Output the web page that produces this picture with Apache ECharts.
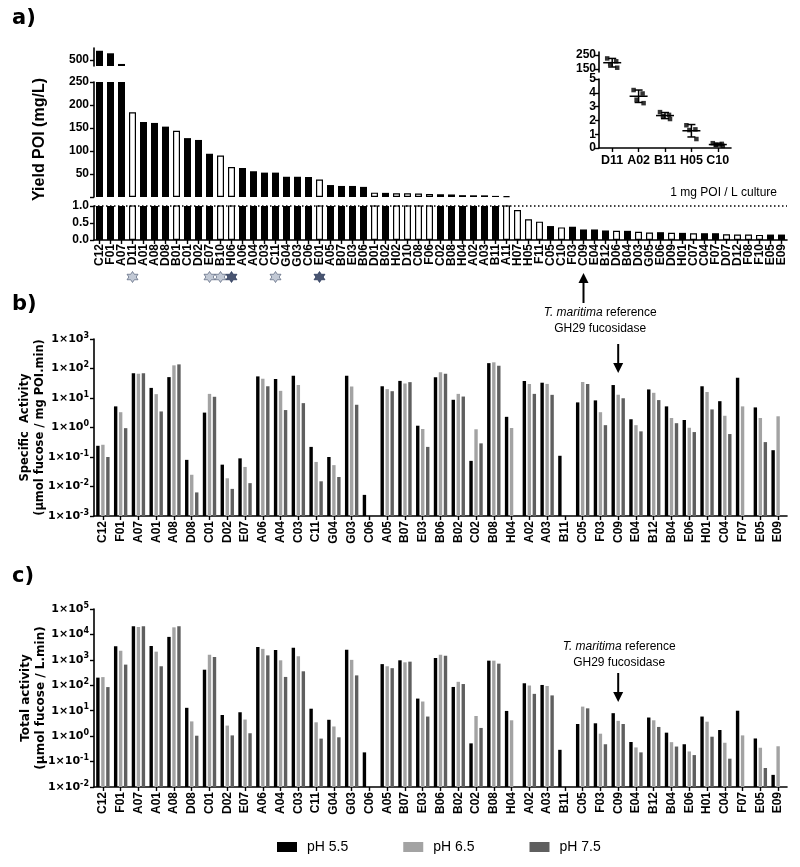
<!DOCTYPE html>
<html><head><meta charset="utf-8">
<script src="https://cdn.jsdelivr.net/npm/echarts@6/dist/echarts.min.js"></script>
<style>html,body{margin:0;padding:0;background:#fff}#c{width:800px;height:867px}</style>
</head><body><div id="c"></div>
<script>
// ---------- DATA ----------
const yieldCats = ['C12','F01','A07','D11','A01','A08','D08','B01','C01','D02','E07','B10','H06','A06','A04','C03','C11','G04','G03','C06','E01','A05','B07','E03','B06','D01','B02','H02','D10','C08','F06','C02','B08','H04','A02','A03','B11','A11','H07','H05','F11','C05','C10','F03','C09','E04','B12','D06','B04','D03','G05','E06','D09','H01','C07','C04','F07','D07','D12','F08','F10','E05','E09'];
const yieldValues = [577,556,467,184,163,161,153,144,128,124,94,90,65,63,56,53,53,44,44,43.5,38,26,24,24,22,9.5,9,8,8,7.5,6.5,6,5.5,4,3.7,3.6,2.4,1.8,0.88,0.61,0.54,0.41,0.37,0.39,0.31,0.31,0.28,0.27,0.27,0.24,0.22,0.23,0.21,0.21,0.2,0.2,0.2,0.17,0.16,0.16,0.15,0.16,0.16];
const yieldFilled = [1,1,1,0,1,1,1,0,1,1,1,0,0,1,1,1,1,1,1,1,0,1,1,1,1,0,1,0,0,0,0,1,1,1,1,1,1,0,0,0,0,1,0,1,1,1,1,0,1,0,0,1,0,1,0,1,1,0,0,0,0,1,1];
const yieldTopTicks = [500];

const starCats = ['D11','E07','B10','H06','C11','E01'];
const starShade = ['light','light','light','dark','light','dark'];

const insetCats = ['D11','A02','B11','H05','C10'];
const insetReplicates = [[225,205,185,160],[4.2,3.95,3.5,3.25],[2.6,2.4,2.3,2.1],[1.65,1.35,1.3,0.65],[0.35,0.3,0.22,0.15]];
const insetMean = [195,3.75,2.35,1.25,0.25];
const insetSD = [30,0.45,0.22,0.45,0.1];
const insetTopTicks = [150,250];

const actCats = ['C12','F01','A07','A01','A08','D08','C01','D02','E07','A06','A04','C03','C11','G04','G03','C06','A05','B07','E03','B06','B02','C02','B08','H04','A02','A03','B11','C05','F03','C09','E04','B12','B04','E06','H01','C04','F07','E05','E09'];
const specPH55 = [0.24,5.2,69,22,51,0.08,3.2,0.055,0.09,54,44,57,0.22,0.1,57,0.0052,25,38,1.15,51,8.7,0.074,152,2.3,38,33,0.11,7.1,8.3,27.5,1.9,19.5,5.2,1.8,25,7.8,49,4.8,0.17];
const specPH65 = [0.26,3.3,66,13.5,128,0.025,13.8,0.019,0.046,45,17.5,27.5,0.068,0.053,24.5,null,20,31,0.89,74,13.8,0.87,162,0.96,30,30,null,35,3.3,12.9,1.2,15,2.1,0.98,16,2.5,5.2,2.1,2.4];
const specPH75 = [0.1,0.95,69,3.5,138,0.0063,11,0.0083,0.013,25,3.9,6.7,0.015,0.021,5.9,null,17,34.5,0.22,66,11.2,0.29,124,null,13.8,12.8,null,30,1.2,9.8,0.74,8.5,1.4,0.7,4.1,0.6,null,0.32,null];
const totPH55 = [200,3400,21000,3500,8000,13,410,6.8,8.7,3200,2450,3000,12,4.4,2500,0.23,680,960,30,1170,86,0.52,930,9.8,120,103,0.29,3.0,3.2,8,0.59,5.4,1.37,0.48,5.9,1.74,10,0.81,0.03];
const totPH65 = [210,2300,19700,2100,19000,3.8,1600,2.6,4.5,2700,960,1400,3.5,2.4,1000,null,560,800,23,1600,137,6.2,930,4.2,98,94,null,14.5,1.25,4,0.36,4.2,0.58,0.25,3.7,0.55,1.07,0.35,0.4];
const totPH75 = [85,650,21000,560,21000,1.04,1300,1.07,1.3,1500,213,355,0.8,0.9,245,null,470,850,5.9,1450,112,2.1,710,null,46,40,null,12.4,0.48,3.0,0.23,2.3,0.39,0.18,0.95,0.13,null,0.056,null];
const phNames = ['pH 5.5','pH 6.5','pH 7.5'];
const refCat = 'C09';

// ---------- STYLE ----------
const AR = 'Liberation Sans, Arial, sans-serif';
const DV = 'DejaVu Sans, Verdana, sans-serif';
const phColors = ['#000000','#a3a3a3','#5f5f5f'];
const jitter = [-5,4,-2,5];
const LINE = {show:true, lineStyle:{color:'#000', width:1.6}};
const TICK = {show:true, length:4, lineStyle:{color:'#000', width:1.4}};

const chart = echarts.init(document.getElementById('c'), null, {renderer:'canvas'});

function yieldItem(v, i){
  const f = yieldFilled[i];
  return {value: v, itemStyle: f ? {color:'#000', borderColor:'#000', borderWidth:0} : {color:'#fff', borderColor:'#000', borderWidth:1.2}};
}
function logLabel(v){
  const e = Math.round(Math.log10(v));
  return '1×10{s|' + e + '}';
}
const logAxisLabel = {fontFamily:DV, fontWeight:'bold', fontSize:11, color:'#000', margin:5, formatter:logLabel,
  rich:{s:{fontFamily:DV, fontWeight:'bold', fontSize:8, color:'#000', padding:[0,0,7,0]}}};
const hid = v => (v == null ? '-' : v);

const grids = [
  {left:94, right:13, top:48, height:18},   // 0 a top
  {left:94, right:13, top:82, height:115},  // 1 a mid
  {left:94, right:13, top:206, height:34},  // 2 a bottom
  {left:94, right:13, top:271, height:12},  // 3 stars
  {left:94, right:13, top:339, height:177}, // 4 b
  {left:94, right:13, top:609, height:178}, // 5 c
  {left:599, width:132, top:52, height:20}, // 6 inset top
  {left:599, width:132, top:79, height:69}  // 7 inset bottom
];
const hiddenCat = (gi, cats) => ({type:'category', gridIndex:gi, data:cats, show:false});
const xAxes = [
  hiddenCat(0, yieldCats), hiddenCat(1, yieldCats),
  {type:'category', gridIndex:2, data:yieldCats, axisLine:LINE, axisTick:Object.assign({alignWithLabel:true}, TICK),
    axisLabel:{interval:0, rotate:90, fontFamily:AR, fontWeight:'bold', fontSize:12, color:'#000', margin:4}},
  hiddenCat(3, yieldCats),
  {type:'category', gridIndex:4, data:actCats, axisLine:LINE, axisTick:Object.assign({alignWithLabel:true}, TICK),
    axisLabel:{interval:0, rotate:90, fontFamily:AR, fontWeight:'bold', fontSize:12, color:'#000', margin:5}},
  {type:'category', gridIndex:5, data:actCats, axisLine:LINE, axisTick:Object.assign({alignWithLabel:true}, TICK),
    axisLabel:{interval:0, rotate:90, fontFamily:AR, fontWeight:'bold', fontSize:12, color:'#000', margin:5}},
  hiddenCat(6, insetCats),
  {type:'category', gridIndex:7, data:insetCats, axisLine:LINE, axisTick:Object.assign({alignWithLabel:true}, TICK),
    axisLabel:{interval:0, fontFamily:AR, fontWeight:'bold', fontSize:12.5, color:'#000', margin:6}}
];
const yLab = {fontFamily:AR, fontWeight:'bold', fontSize:12, color:'#000', margin:5};
const yAxes = [
  {type:'value', gridIndex:0, min:450, max:600, splitLine:{show:false}, axisLine:LINE,
    axisTick:Object.assign({customValues:yieldTopTicks}, TICK), axisLabel:Object.assign({customValues:yieldTopTicks}, yLab)},
  {type:'value', gridIndex:1, min:0, max:250, interval:50, splitLine:{show:false}, axisLine:LINE, axisTick:TICK,
    axisLabel:Object.assign({formatter:v => v === 0 ? '' : String(v)}, yLab),
    name:'Yield POI (mg/L)', nameLocation:'middle', nameGap:46, nameMoveOverlap:false,
    nameTextStyle:{fontFamily:AR, fontWeight:'bold', fontSize:16, color:'#000'}},
  {type:'value', gridIndex:2, min:0, max:1, interval:0.5, splitLine:{show:false}, axisLine:LINE, axisTick:TICK,
    axisLabel:Object.assign({formatter:v => v.toFixed(1)}, yLab)},
  {type:'value', gridIndex:3, min:0, max:1, show:false},
  {type:'log', gridIndex:4, logBase:10, min:0.001, max:1000, interval:1, startValue:0.001, splitLine:{show:false},
    axisLine:LINE, axisTick:TICK, axisLabel:logAxisLabel,
    name:'Specific  Activity\n(µmol fucose / mg POI.min)', nameLocation:'middle', nameGap:46, nameMoveOverlap:false,
    nameTextStyle:{fontFamily:DV, fontWeight:'bold', fontSize:11.5, color:'#000', lineHeight:15}},
  {type:'log', gridIndex:5, logBase:10, min:0.01, max:100000, interval:1, startValue:0.01, splitLine:{show:false},
    axisLine:LINE, axisTick:TICK, axisLabel:logAxisLabel,
    name:'Total activity\n(µmol fucose / L.min)', nameLocation:'middle', nameGap:46, nameMoveOverlap:false,
    nameTextStyle:{fontFamily:DV, fontWeight:'bold', fontSize:12, color:'#000', lineHeight:15}},
  {type:'value', gridIndex:6, min:130, max:270, splitLine:{show:false}, axisLine:LINE,
    axisTick:Object.assign({customValues:insetTopTicks}, TICK), axisLabel:Object.assign({customValues:insetTopTicks}, yLab, {margin:3})},
  {type:'value', gridIndex:7, min:0, max:5, interval:1, splitLine:{show:false}, axisLine:LINE, axisTick:TICK,
    axisLabel:Object.assign({}, yLab, {margin:3})}
];

const series = [];
// panel a: broken-axis yield bars
series.push({type:'bar', xAxisIndex:0, yAxisIndex:0, barWidth:7, silent:true,
  data: yieldValues.map((v,i) => v >= 450 ? yieldItem(v,i) : '-')});
series.push({type:'bar', xAxisIndex:1, yAxisIndex:1, barWidth:7, silent:true,
  data: yieldValues.map((v,i) => v >= 1 ? yieldItem(v,i) : '-')});
series.push({type:'bar', xAxisIndex:2, yAxisIndex:2, barWidth:7, silent:true,
  data: yieldValues.map((v,i) => yieldItem(v,i)),
  markLine:{silent:true, symbol:'none', data:[{yAxis:1}],
    lineStyle:{type:[1.5,2.5], color:'#000', width:1.5},
    label:{show:true, position:'insideEndTop', formatter:'1 mg POI / L culture', fontFamily:AR, fontSize:12, color:'#000', distance:[10,7]}}});
// stars
const STAR = 'path://M0,-10 L2.9,-5 L8.66,-5 L5.8,0 L8.66,5 L2.9,5 L0,10 L-2.9,5 L-8.66,5 L-5.8,0 L-8.66,-5 L-2.9,-5 Z';
series.push({type:'scatter', xAxisIndex:3, yAxisIndex:3, symbol:STAR, symbolSize:11, silent:true,
  data: starCats.map((c,i) => ({value:[c,0.5], itemStyle: starShade[i]==='dark'
    ? {color:'#1b2a4e', borderColor:'#1b2a4e', borderWidth:0.8}
    : {color:'#b3bccb', borderColor:'#4a5670', borderWidth:0.8}}))});
// inset
function insetPts(upper){
  const out = [];
  insetReplicates.forEach((arr,i) => arr.forEach((v,j) => {
    if ((v > 5) === upper) out.push({value:[insetCats[i], v], symbolOffset:[jitter[j],0]});
  }));
  return out;
}
function errItem(upper){
  const out = [];
  insetMean.forEach((m,i) => { if ((m > 5) === upper) out.push([i, m, m - insetSD[i], m + insetSD[i]]); });
  return out;
}
function renderErr(params, api){
  const x = api.value(0);
  const m = api.coord([x, api.value(1)]);
  const lo = api.coord([x, api.value(2)]);
  const hi = api.coord([x, api.value(3)]);
  const st = {stroke:'#000', lineWidth:1.5};
  return {type:'group', children:[
    {type:'line', shape:{x1:m[0]-9, y1:m[1], x2:m[0]+9, y2:m[1]}, style:st},
    {type:'line', shape:{x1:lo[0], y1:lo[1], x2:hi[0], y2:hi[1]}, style:st},
    {type:'line', shape:{x1:lo[0]-4, y1:lo[1], x2:lo[0]+4, y2:lo[1]}, style:st},
    {type:'line', shape:{x1:hi[0]-4, y1:hi[1], x2:hi[0]+4, y2:hi[1]}, style:st}]};
}
[true,false].forEach(up => {
  const gi = up ? 6 : 7;
  series.push({type:'scatter', xAxisIndex:gi, yAxisIndex:gi, symbol:'rect', symbolSize:4.5, silent:true,
    itemStyle:{color:'#000'}, data: insetPts(up)});
  series.push({type:'custom', xAxisIndex:gi, yAxisIndex:gi, silent:true, renderItem:renderErr, data: errItem(up), z:3});
});
// panels b and c
const specSets = [specPH55, specPH65, specPH75];
const totSets = [totPH55, totPH65, totPH75];
phNames.forEach((nm,k) => {
  series.push({type:'bar', name:nm, xAxisIndex:4, yAxisIndex:4, barWidth:3.4, barGap:'47%', silent:true,
    itemStyle:{color:phColors[k]}, data: specSets[k].map(hid)});
});
phNames.forEach((nm,k) => {
  series.push({type:'bar', name:nm, xAxisIndex:5, yAxisIndex:5, barWidth:3.4, barGap:'47%', silent:true,
    itemStyle:{color:phColors[k]}, data: totSets[k].map(hid)});
});

chart.setOption({
  animation:false,
  backgroundColor:'#fff',
  grid:grids, xAxis:xAxes, yAxis:yAxes, series:series,
  legend:{data:phNames, left:277, top:840, padding:0, icon:'rect', itemWidth:20, itemHeight:10, itemGap:55, selectedMode:false,
    textStyle:{fontFamily:AR, fontSize:14, color:'#000', padding:[0,0,0,5]}}
});

// annotations anchored to the reference category
const xa = chart.convertToPixel({xAxisIndex:2}, refCat);
const xb = chart.convertToPixel({xAxisIndex:4}, refCat);
const xc = chart.convertToPixel({xAxisIndex:5}, refCat);
function arrow(x, yTail, yTip){
  const dir = yTip > yTail ? 1 : -1;
  const base = yTip - dir * 10;
  return [
    {type:'line', shape:{x1:x, y1:yTail, x2:x, y2:base}, style:{stroke:'#000', lineWidth:2}},
    {type:'polygon', shape:{points:[[x-5,base],[x+5,base],[x,yTip]]}, style:{fill:'#000'}}
  ];
}
const refText = (x, y) => ({type:'text', x:x, y:y, style:{
  text:'{i|T. maritima} reference\nGH29 fucosidase', align:'center', verticalAlign:'middle',
  fontFamily:AR, fontSize:12, fill:'#000', lineHeight:16,
  rich:{i:{fontStyle:'italic', fontFamily:AR, fontSize:12, fill:'#000'}}}});
const panelLabel = (t, x, y) => ({type:'text', x:x, y:y, style:{text:t, fontFamily:DV, fontWeight:'bold', fontSize:21, fill:'#000', verticalAlign:'middle'}});
chart.setOption({graphic:[
  panelLabel('a)', 12, 19), panelLabel('b)', 12, 305), panelLabel('c)', 12, 577),
  ...arrow(xa, 303, 273),
  refText(xb - 18, 321),
  ...arrow(xb, 344, 373),
  refText(xc + 1, 655),
  ...arrow(xc, 673, 702)
]});
</script></body></html>
